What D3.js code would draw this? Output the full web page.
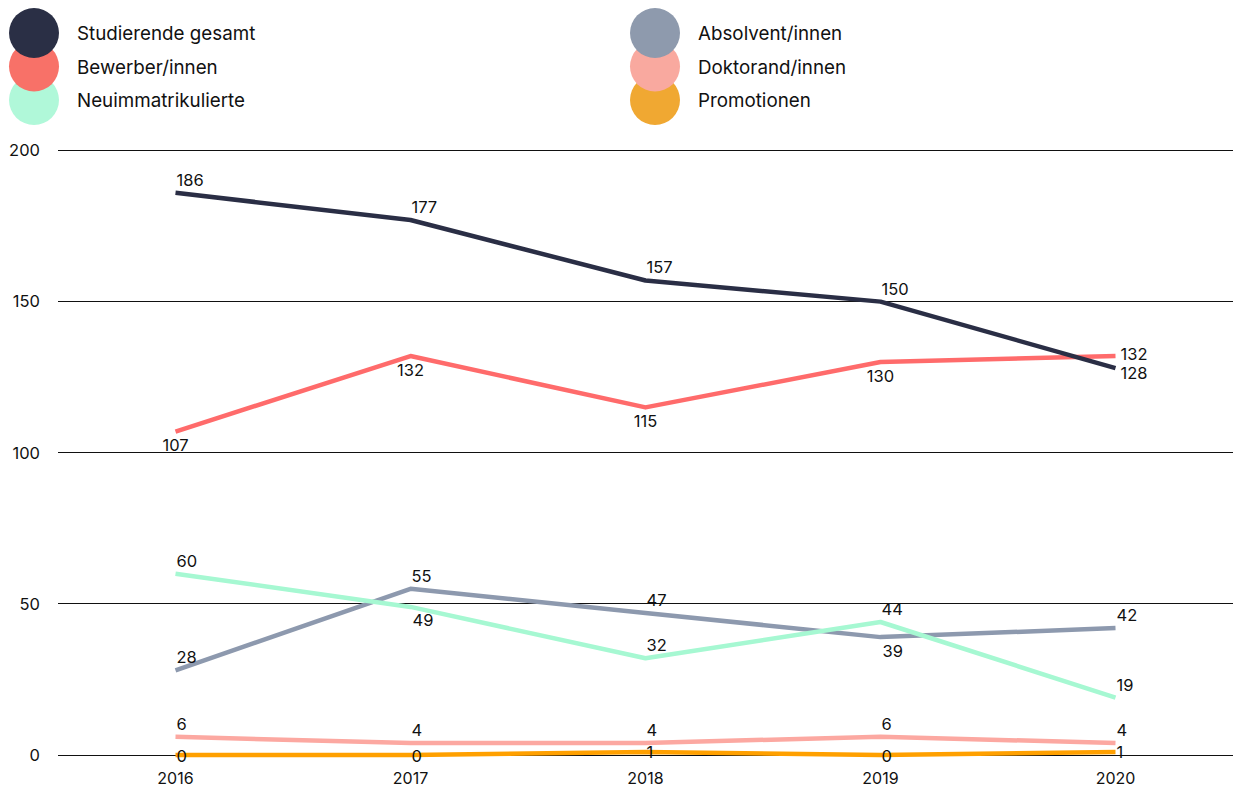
<!DOCTYPE html>
<html><head><meta charset="utf-8">
<script src="https://cdn.jsdelivr.net/npm/d3@7"></script>
<style>body{margin:0;background:#fff;}svg{display:block;font-family:Inter,"Noto Sans",sans-serif;}</style>
</head><body><svg id="c" width="1233" height="787"></svg>
<script>
const years = ["2016","2017","2018","2019","2020"];
const yTicks = [0,50,100,150,200];
const seriesNames = ["Studierende gesamt","Bewerber/innen","Neuimmatrikulierte","Absolvent/innen","Doktorand/innen","Promotionen"];
const studierende = [186,177,157,150,128];
const bewerber = [107,132,115,130,132];
const neuimmat = [60,49,32,44,19];
const absolventen = [28,55,47,39,42];
const doktoranden = [6,4,4,6,4];
const promotionen = [0,0,1,0,1];

const lineColors = ["#2a2e45","#ff6b6b","#a6f8d2","#8d99ae","#fca8a1","#ffa000"];
const legendColors = ["#2a2f45","#f87168","#b0f8d9","#8e9aad","#f9a99f","#f0a832"];
// label placement per point: a=above-left, b=below-center, bl=below-left, r=right-center, rb=right-below, c=center-left
const placements = [
  ["a","a","a","a","rb"],
  ["b","b","b","b","r"],
  ["a","bl","a","a","a"],
  ["a","a","a","bl","a"],
  ["a","a","a","a","a"],
  ["c","c","c","c","c"]
];
const allSeries = [studierende,bewerber,neuimmat,absolventen,doktoranden,promotionen];

const svg = d3.select("#c");
const x = d3.scalePoint().domain(years).range([58,1233]).padding(0.5);
const y = d3.scaleLinear().domain([0,200]).range([755,150.5]);

// grid
svg.append("g").selectAll("line").data(yTicks).join("line")
  .attr("x1",58).attr("x2",1233).attr("y1",d=>y(d)).attr("y2",d=>y(d))
  .attr("stroke","#111").attr("stroke-width",1).attr("shape-rendering","crispEdges");
svg.append("g").selectAll("text").data(yTicks).join("text")
  .attr("x",40).attr("y",d=>y(d)).attr("dy","0.35em").attr("text-anchor","end")
  .attr("font-size",16.5).attr("fill","#111").text(d=>d);
svg.append("g").selectAll("text").data(years).join("text")
  .attr("x",d=>x(d)).attr("y",784).attr("text-anchor","middle")
  .attr("font-size",16).attr("fill","#111").text(d=>d);

// lines
const order = [1,0,3,2,4,5];
const line = d3.line().x((d,i)=>x(years[i])).y(d=>y(d));
order.forEach(si=>{
  svg.append("path").datum(allSeries[si]).attr("d",line)
    .attr("fill","none").attr("stroke",lineColors[si]).attr("stroke-width",4.5)
    .attr("stroke-linejoin","round");
});
// labels
order.forEach(si=>{
  const g = svg.append("g");
  allSeries[si].forEach((v,i)=>{
    const p = placements[si][i];
    const px = x(years[i]), py = y(v);
    let tx=px+1, ty=py-7, anchor="start";
    if(p==="b"){tx=px; ty=py+19.5; anchor="middle";}
    else if(p==="bl"){tx=px+2; ty=py+19.5;}
    else if(p==="r"){tx=px+5; ty=py+4;}
    else if(p==="rb"){tx=px+5; ty=py+10.5;}
    else if(p==="c"){tx=px+1; ty=py+6.5;}
    else if(p==="a"){tx=px+1; ty=py-7;}
    g.append("text").attr("x",tx).attr("y",ty).attr("text-anchor",anchor)
      .attr("font-size",16.5).attr("fill","#111").text(v);
  });
});

// legend
const legX = [34,655], legTX=[77,698], legY=[33,66.5,100];
const legItems = seriesNames.map((n,i)=>({n,i,col:Math.floor(i/3),row:i%3}));
const lg = svg.append("g");
legItems.slice().reverse().forEach(d=>{
  lg.append("circle").attr("cx",legX[d.col]).attr("cy",legY[d.row]).attr("r",25).attr("fill",legendColors[d.i]);
});
legItems.forEach(d=>{
  lg.append("text").attr("x",legTX[d.col]).attr("y",legY[d.row]+7).attr("font-size",18.8)
    .attr("fill","#111").text(d.n);
});
</script></body></html>
